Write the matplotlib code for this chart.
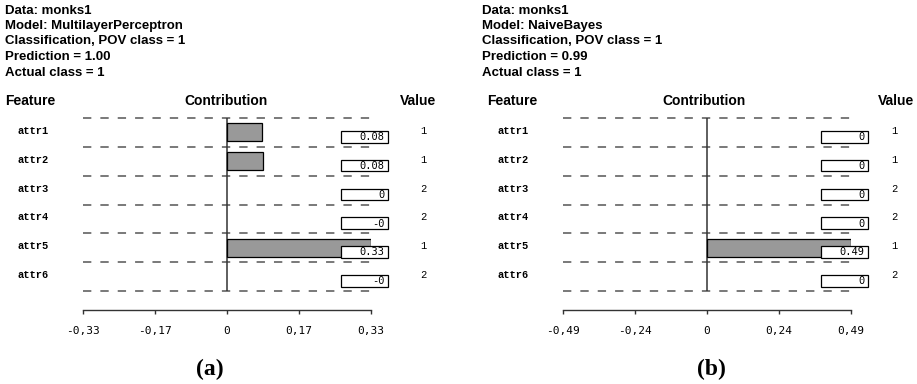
import matplotlib
matplotlib.use("Agg")
import matplotlib.pyplot as plt
from matplotlib.patches import Rectangle
import matplotlib.transforms as mtransforms

plt.rcParams["lines.scale_dashes"] = False

W, H = 917, 384

# ---- data ----
features = ["attr1", "attr2", "attr3", "attr4", "attr5", "attr6"]

mlp_info = ["Data: monks1", "Model: MultilayerPerceptron",
            "Classification, POV class = 1", "Prediction = 1.00",
            "Actual class = 1"]
mlp_contrib = [0.08, 0.082, 0.0, -0.001, 0.33, -0.001]
mlp_values = ["1", "1", "2", "2", "1", "2"]
mlp_xmax = 0.33
mlp_ticklabels = ["-0,33", "-0,17", "0", "0,17", "0,33"]

nb_info = ["Data: monks1", "Model: NaiveBayes",
           "Classification, POV class = 1", "Prediction = 0.99",
           "Actual class = 1"]
nb_contrib = [0.0, 0.0, 0.0, 0.0, 0.49, 0.0]
nb_values = ["1", "1", "2", "2", "1", "2"]
nb_xmax = 0.49
nb_ticklabels = ["-0,49", "-0,24", "0", "0,24", "0,49"]

panel_tags = ["(a)", "(b)"]


def fmt(v):
    return f"{v:.2f}".rstrip("0").rstrip(".")


fig = plt.figure(figsize=(W / 100, H / 100), dpi=100)


def fx(px):
    return px / W


def fy(py):
    return 1 - py / H


SANS = "Liberation Sans"
MONO = "Liberation Mono"
DMONO = "DejaVu Sans Mono"


def draw_panel(off, info, contrib, values, xmax, ticklabels, tag, lay):
    # info block
    for k, line in enumerate(info):
        fig.text(fx(lay["info_x"]), fy(10.5 + 15.5 * k), line, family=SANS,
                 weight="bold", fontsize=9.5, ha="left", va="center")
    # column headers
    fig.text(fx(lay["feat_hdr"]), fy(101), "Feature", family=SANS,
             weight="bold", fontsize=10, ha="left", va="center")
    fig.text(fx(lay["contrib_hdr"]), fy(101), "Contribution", family=SANS,
             weight="bold", fontsize=10, ha="center", va="center")
    fig.text(fx(lay["val_hdr"]), fy(101), "Value", family=SANS,
             weight="bold", fontsize=10, ha="center", va="center")

    x0, x1, ytop, ybot = off + 83, off + 371, 118, 291
    ax = fig.add_axes([fx(x0), fy(ybot), fx(x1 - x0), (ybot - ytop) / H])
    n = len(features)
    ax.set_xlim(-xmax, xmax)
    ax.set_ylim(n - 0.5, -0.5)
    ax.patch.set_alpha(0)

    # dashed separators between rows
    for b in range(n + 1):
        ax.plot([-xmax, xmax], [b - 0.5, b - 0.5], color="#555555", lw=1.1,
                linestyle=(0, (6.0, 6.5)), clip_on=False, zorder=1)
    ax.axvline(0, color="#333333", lw=1.1, zorder=2)

    edge_w = [0.9 if abs(v) >= 0.005 else 0.0 for v in contrib]
    ax.barh(range(n), contrib, height=0.62, color="#999999",
            edgecolor="black", linewidth=edge_w, zorder=3)

    bt = mtransforms.blended_transform_factory(ax.transAxes, ax.transData)
    axw = x1 - x0
    bl, br = 1 - 30 / axw, 1 + 17 / axw
    row_h = (ybot - ytop) / n
    for i, v in enumerate(contrib):
        ax.add_patch(Rectangle((bl, i - 0.05), br - bl, 0.40, transform=bt,
                               facecolor="white", edgecolor="black",
                               linewidth=0.9, clip_on=False, zorder=4))
        ax.text(br - 3.5 / axw, i + 0.16, fmt(v), transform=bt, ha="right",
                va="center", family=DMONO, fontsize=7.5, zorder=5)
        # feature name and attribute value
        yrow = fy(ytop + (i + 0.5) * row_h - 1.5)
        fig.text(fx(off + 17), yrow, features[i], family=MONO, fontsize=7.5,
                 weight="bold", ha="left", va="center")
        fig.text(fx(lay["val_col"]), yrow, values[i], family=MONO,
                 fontsize=7.5, ha="center", va="center")

    for s in ("top", "right", "left"):
        ax.spines[s].set_visible(False)
    ax.spines["bottom"].set_position(("outward", 19 * 0.72))
    ax.spines["bottom"].set_color("#333333")
    ax.spines["bottom"].set_linewidth(1.0)
    ax.set_yticks([])
    ticks = [-xmax, -xmax / 2, 0, xmax / 2, xmax]
    ax.set_xticks(ticks)
    ax.set_xticklabels(ticklabels, family=DMONO, fontsize=8)
    ax.tick_params(axis="x", direction="out", length=3.2, width=1.0,
                   color="#333333", pad=8)

    fig.text(fx(lay["tag_x"]), fy(369), tag, family="Liberation Serif",
             weight="bold", fontsize=17, ha="center", va="center")


draw_panel(0, mlp_info, mlp_contrib, mlp_values, mlp_xmax, mlp_ticklabels,
           panel_tags[0],
           dict(info_x=5, feat_hdr=5, contrib_hdr=226, val_hdr=418,
                val_col=423, tag_x=210))
draw_panel(480, nb_info, nb_contrib, nb_values, nb_xmax, nb_ticklabels,
           panel_tags[1],
           dict(info_x=482, feat_hdr=487, contrib_hdr=704, val_hdr=896,
                val_col=894, tag_x=711))

fig.savefig("out.png", dpi=100)
